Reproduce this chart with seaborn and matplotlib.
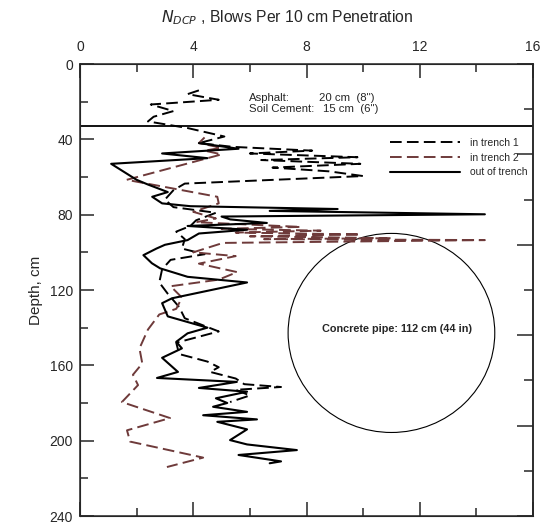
import matplotlib
matplotlib.use("Agg")
import matplotlib.pyplot as plt
import seaborn as sns
from matplotlib.patches import Ellipse
from matplotlib.ticker import MultipleLocator

# DCP profiles: depth (cm) and blows per 10 cm
trench1_depth = [14, 16, 19, 21.5, 25, 28, 30.5, 34, 38.5, 42, 44, 46, 47.5, 49.5, 51, 53, 55, 57,
                 59.5, 63.5, 67, 72, 76, 79, 83, 86, 89, 93, 98, 101, 104, 109, 116, 122, 129, 135,
                 142, 148, 154, 158, 161, 163.5, 167, 170, 171.5, 173, 176, 179.5]
trench1_blows = [4.2, 3.8, 4.9, 2.5, 3.3, 2.6, 2.4, 3.8, 5.1, 4.2, 5.4, 8.2, 6.0, 9.8, 6.4, 9.9, 6.8, 8.8,
                 10.0, 3.7, 3.3, 3.0, 3.3, 4.8, 4.1, 3.9, 3.4, 3.7, 3.6, 4.4, 3.2, 2.9, 2.8, 3.1, 3.5, 3.7,
                 4.9, 3.4, 3.5, 4.5, 4.9, 4.6, 5.5, 5.8, 7.1, 5.5, 6.0, 5.3]

trench2_depth = [39, 42, 44.5, 46, 48, 61.5, 70.5, 74, 78.5, 82, 84, 86.5, 87.5, 88.5, 89.5, 90.5,
                 91.5, 92.5, 93, 93.5, 95, 100, 102, 106, 110.5, 114.5, 118, 124, 130, 133, 141,
                 151, 159, 165, 170.5, 179.5, 188, 194.5, 200.5, 209, 214]
trench2_blows = [4.4, 4.2, 5.0, 4.4, 5.0, 1.65, 4.85, 4.9, 4.0, 4.8, 4.1, 7.8, 5.0, 8.5, 5.5, 9.9,
                 6.0, 11.0, 6.5, 14.3, 5.05, 4.0, 5.5, 4.2, 5.55, 4.9, 3.2, 3.6, 3.4, 2.8, 2.4,
                 2.1, 2.2, 1.87, 2.05, 1.48, 3.18, 1.66, 1.77, 4.35, 3.07]

out_depth = [42, 45, 47.5, 50, 53, 61.5, 64, 68, 70.5, 74, 75.5, 77, 78, 79.8, 81, 82.5, 84.4, 86,
             88, 90, 93.5, 96, 98, 101.5, 105.8, 108.5, 113, 116, 124.4, 127, 134, 140, 143, 147.5,
             151, 156, 163.5, 166.7, 168.8, 172, 174, 177.5, 180, 182, 184.7, 186.5, 188.7, 190,
             194, 199.7, 202, 205, 207.6, 211, 212]
out_blows = [4.2, 5.6, 2.9, 4.5, 1.1, 2.0, 2.4, 3.1, 2.55, 2.9, 3.9, 9.1, 6.7, 14.3, 5.0, 5.3, 6.6, 3.8,
             5.9, 4.2, 3.8, 3.0, 2.7, 2.24, 2.54, 2.83, 3.8, 5.9, 3.25, 2.9, 3.1, 4.5, 3.8, 3.4,
             3.6, 2.9, 3.46, 2.72, 5.54, 4.2, 5.9, 4.8, 5.2, 4.7, 5.9, 4.35, 6.25, 4.85,
             5.9, 5.3, 5.9, 7.66, 5.6, 7.1, 6.7]

layer_base = 33  # asphalt + soil cement boundary as drawn
pipe_center = (11.0, 142.8)
pipe_size = (7.3, 105.7)

sns.set_style("ticks")
plt.rcParams["font.family"] = ["Liberation Sans", "DejaVu Sans"]

fig = plt.figure(figsize=(5.4, 5.23), dpi=100)
ax = fig.add_axes([80 / 540, 1 - 516 / 523, 453 / 540, 452 / 523])

dash = (0, (6, 2.7))
brown = "#6e3a3a"
sns.lineplot(x=trench1_blows, y=trench1_depth, sort=False, estimator=None, color="black",
             lw=1.4, linestyle=dash, label="in trench 1", ax=ax)
sns.lineplot(x=trench2_blows, y=trench2_depth, sort=False, estimator=None, color=brown,
             lw=1.4, linestyle=dash, label="in trench 2", ax=ax)
sns.lineplot(x=out_blows, y=out_depth, sort=False, estimator=None, color="black",
             lw=1.5, label="out of trench", ax=ax)

ax.axhline(layer_base, color="black", lw=1.3)
ax.add_patch(Ellipse(pipe_center, pipe_size[0], pipe_size[1], fill=False, color="black", lw=0.8))
ax.text(11.2, 140.5, "Concrete pipe: 112 cm (44 in)", ha="center", va="center",
        fontsize=7.8, fontweight="bold")

ax.text(5.97, 18, "Asphalt:", fontsize=8.2, va="center")
ax.text(8.43, 18, '20 cm  (8")', fontsize=8.2, va="center")
ax.text(5.97, 24, "Soil Cement:", fontsize=8.2, va="center")
ax.text(8.57, 24, '15 cm  (6")', fontsize=8.2, va="center")

ax.set_xlim(0, 16)
ax.set_ylim(240, 0)
ax.xaxis.set_major_locator(MultipleLocator(4))
ax.xaxis.set_minor_locator(MultipleLocator(2))
ax.yaxis.set_major_locator(MultipleLocator(40))
ax.yaxis.set_minor_locator(MultipleLocator(20))
ax.xaxis.tick_top()
ax.tick_params(which="both", direction="in", top=True, bottom=True, left=True, right=False,
               labeltop=True, labelbottom=False, labelsize=10, width=1.1, pad=5)
ax.tick_params(which="major", length=10)
ax.tick_params(which="minor", length=5.5)
ax.tick_params(axis="x", pad=7)
ax.set_xlabel("")
ax.set_ylabel("Depth, cm", fontsize=11, labelpad=5)
for s in ax.spines.values():
    s.set_linewidth(1.1)

ax2 = ax.twinx()
ax2.set_ylim(240, 0)
ax2.yaxis.set_major_locator(MultipleLocator(48))
ax2.yaxis.set_minor_locator(MultipleLocator(24))
ax2.tick_params(which="both", direction="in", labelright=False, width=1.1)
ax2.tick_params(which="major", length=11.5)
ax2.tick_params(which="minor", length=6.5)
ax2.spines["right"].set_linewidth(1.1)

ax.legend(loc="upper left", bbox_to_anchor=((390 - 80) / 453, 1 - (138 - 64) / 452),
          frameon=False, fontsize=7.5, handlelength=6.7, handletextpad=1.0,
          labelspacing=0.45, borderpad=0, borderaxespad=0)

fig.text(287 / 540, 1 - 18 / 523, r"$N_{DCP}$ , Blows Per 10 cm Penetration",
         ha="center", va="center", fontsize=11.3)

fig.savefig("out.png", dpi=100)
